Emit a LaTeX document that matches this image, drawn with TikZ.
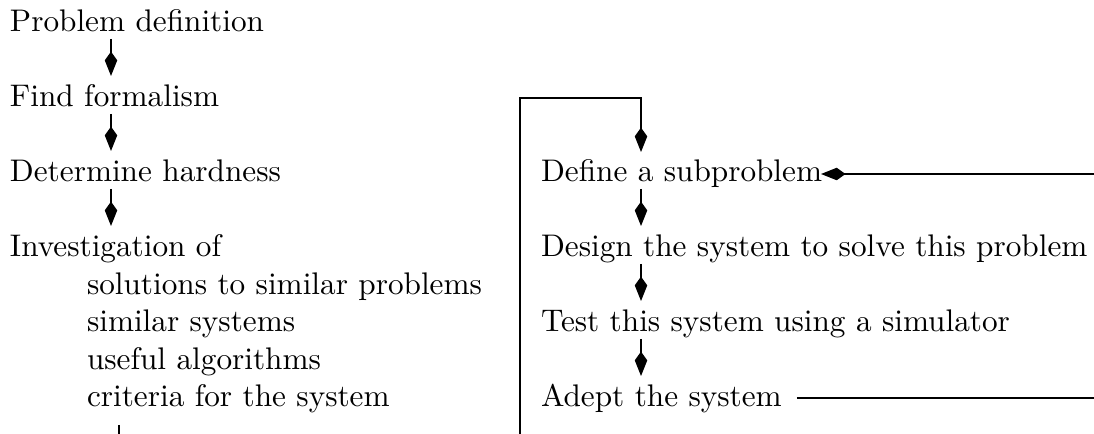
\documentclass[tikz,border=0pt]{standalone}
\usetikzlibrary{arrows.meta,calc}
\begin{document}
\begin{tikzpicture}[x={(0.32pt,0)},y={(0,-0.32pt)},
  item/.style={anchor=base west,inner sep=0pt,outer sep=0pt},
  flow/.style={line width=0.4pt,-{Kite[length=7.8pt,width=4pt,inset=2.8pt]}},
  plain/.style={line width=0.4pt}]
\useasboundingbox (0,0) rectangle (1094,434);

% left column: analysis phase
\node[item] (pd) at (10,32)  {Problem definition};
\node[item] (ff) at (10,107) {Find formalism};
\node[item] (dh) at (10,182) {Determine hardness};
\node[item] (iv) at (10,257) {Investigation of};
\node[item] (s1) at (87,294.5) {solutions to similar problems};
\node[item] (s2) at (87,332)   {similar systems};
\node[item] (s3) at (87,369.5) {useful algorithms};
\node[item] (s4) at (87,407)   {criteria for the system};

\draw[flow] ($(pd.base west)+(101,7)$) -- ($(ff.base west)+(101,-31)$);
\draw[flow] ($(ff.base west)+(101,7)$) -- ($(dh.base west)+(101,-31)$);
\draw[flow] ($(dh.base west)+(101,7)$) -- ($(iv.base west)+(101,-31)$);
\coordinate (lowL) at ($(s4.base west)+(32,27)$);
\draw[plain] ($(s4.base west)+(32,18)$) -- (lowL);

% right column: design loop
\node[item] (ds) at (541,182) {Define a subproblem};
\node[item] (dg) at (541,257) {Design the system to solve this problem};
\node[item] (ts) at (541,332) {Test this system using a simulator};
\node[item] (ad) at (541,407) {Adept the system};

\coordinate (loopB) at (520,434);
\coordinate (loopT) at (520,98);
\draw[flow] (loopB) -- (loopT) -| ($(ds.base west)+(100,-30)$);
\draw[flow] ($(ds.base west)+(100,7)$) -- ($(dg.base west)+(100,-31)$);
\draw[flow] ($(dg.base west)+(100,7)$) -- ($(ts.base west)+(100,-31)$);
\draw[flow] ($(ts.base west)+(100,7)$) -- ($(ad.base west)+(100,-31)$);

\coordinate (backIn) at (1094,174);
\coordinate (backOut) at (1094,398);
\draw[flow] (backIn) -- ($(ds.base east)+(-1,-8)$);
\draw[plain] ($(ad.base east)+(15,-9)$) -- (backOut);
\end{tikzpicture}
\end{document}
